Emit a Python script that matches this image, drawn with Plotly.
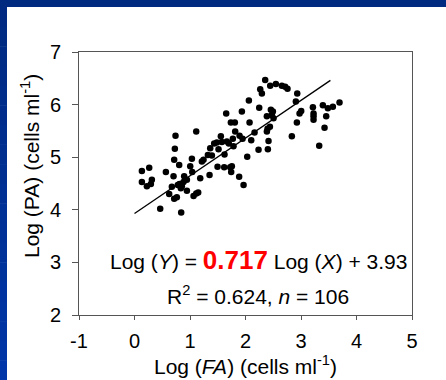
import plotly.graph_objects as go

# Data
fa_log = [0.133, 0.265, 0.133, 0.223, 0.295, 0.313, 0.463, 0.565, 0.625, 0.673,
          0.703, 0.715, 0.727, 0.739, 0.763, 0.715, 0.805, 0.811, 0.853, 0.883,
          0.835, 0.841, 0.895, 0.944, 1.004, 1.034, 1.040, 1.064, 1.112, 1.148,
          1.112, 1.184, 1.214, 1.244, 1.352, 1.364, 1.322, 1.394, 1.436, 1.496,
          1.514, 1.556, 1.574, 1.616, 1.622, 1.652, 1.664, 1.724, 1.742, 1.754,
          1.736, 1.808, 1.772, 1.784, 1.814, 1.886, 1.893, 1.935, 1.947, 1.965,
          2.031, 2.061, 2.073, 2.103, 2.163, 2.235, 2.247, 2.265, 2.295, 2.355,
          2.385, 2.397, 2.385, 2.403, 2.415, 2.445, 2.457, 2.493, 2.475, 2.505,
          2.547, 2.655, 2.715, 2.757, 2.835, 2.907, 2.932, 2.926, 2.974, 3.004,
          3.214, 3.226, 3.226, 3.328, 3.394, 3.424, 3.454, 3.484, 3.574, 3.694,
          1.484, 0.944, 3.226, 0.780, 1.700, 2.440]
pa_log = [4.74, 4.80, 4.53, 4.45, 4.49, 4.57, 4.02, 4.72, 4.30, 4.44,
          4.64, 4.95, 5.16, 5.41, 4.24, 4.21, 4.85, 4.49, 4.45, 4.53,
          4.41, 3.95, 4.64, 4.36, 4.83, 4.97, 4.72, 4.26, 4.31, 4.33,
          5.49, 4.60, 4.92, 4.95, 4.66, 5.17, 5.04, 5.03, 5.26, 4.82,
          5.15, 5.40, 5.29, 4.81, 5.05, 5.83, 5.30, 4.81, 4.72, 4.83,
          5.66, 5.66, 5.35, 5.21, 5.49, 4.63, 5.41, 5.87, 5.35, 4.47,
          5.01, 6.08, 5.66, 5.32, 5.47, 5.14, 5.94, 6.29, 6.21, 6.47,
          5.78, 5.54, 5.49, 5.15, 5.31, 6.36, 5.90, 5.87, 5.80, 5.74,
          6.39, 6.36, 6.34, 6.30, 5.40, 6.06, 6.21, 5.66, 5.83, 5.88,
          5.95, 5.83, 5.71, 5.22, 5.99, 5.56, 5.78, 5.93, 5.96, 6.04,
          5.28, 4.57, 5.78, 4.47, 5.26, 5.58]

slope = 0.717
intercept = 3.93
fit_x = [0.0, 3.53]
fit_y = [intercept + slope * v for v in fit_x]

x_ticks = [-1, 0, 1, 2, 3, 4, 5]
x_tick_text = ["-1", "0", "1", "2", "3", "4", "5"]
y_ticks = [2, 3, 4, 5, 6, 7]
y_tick_text = ["2", "3", "4", "5", "6", "7"]

FONT = "Liberation Sans, Arial, sans-serif"
W, H = 446, 380
L, R, T, B = 79, 34, 52, 65
pw, ph = W - L - R, H - T - B
BLUE_TOP = (0x00, 0x2A, 0x80)
BLUE_BOTTOM = (0x00, 0x36, 0xA8)

fig = go.Figure()
fig.add_trace(go.Scatter(x=fa_log, y=pa_log, mode="markers",
                         marker=dict(color="black", size=6.5), showlegend=False,
                         hoverinfo="skip"))
fig.add_trace(go.Scatter(x=fit_x, y=fit_y, mode="lines",
                         line=dict(color="black", width=1.3), showlegend=False,
                         hoverinfo="skip"))

# pixel -> paper helpers
def px_x(p):
    return (p - L) / pw

def px_y(p):
    return (H - B - p) / ph

def rgb(c):
    return "rgb(%d,%d,%d)" % c

# blue frame: top band and left band (vertical gradient)
fig.add_shape(type="rect", xref="paper", yref="paper",
              x0=px_x(0), x1=px_x(W), y0=px_y(7), y1=px_y(0),
              fillcolor=rgb(BLUE_TOP), line=dict(width=0), layer="below")
steps = 19
for i in range(steps):
    y0p = 7 + (H - 7) * i / steps
    y1p = 7 + (H - 7) * (i + 1) / steps + 0.5
    t = (i + 0.5) / steps
    col = tuple(int(round(a + (b - a) * t)) for a, b in zip(BLUE_TOP, BLUE_BOTTOM))
    fig.add_shape(type="rect", xref="paper", yref="paper",
                  x0=px_x(0), x1=px_x(7), y0=px_y(min(y1p, H)), y1=px_y(y0p),
                  fillcolor=rgb(col), line=dict(width=0), layer="below")

fig.add_annotation(x=2.23, y=3.05, xref="x", yref="y", showarrow=False,
                   text=("Log (<i>Y</i>) = <span style='color:#FF0000;font-size:26px'><b>0.717</b></span>"
                         " Log (<i>X</i>) + 3.93"),
                   font=dict(family=FONT, size=21, color="black"), xanchor="center", yanchor="middle")
fig.add_annotation(x=2.23, y=2.38, xref="x", yref="y", showarrow=False,
                   text="R<sup>2</sup> = 0.624, <i>n</i> = 106",
                   font=dict(family=FONT, size=21, color="black"), xanchor="center", yanchor="middle")

# y-axis title as rotated annotation
fig.add_annotation(x=px_x(30), y=px_y(166), xref="paper", yref="paper", showarrow=False,
                   text="Log (PA) (cells ml<sup>-1</sup>)", textangle=-90,
                   font=dict(family=FONT, size=21, color="black"), xanchor="center", yanchor="middle")

axis_common = dict(showgrid=False, zeroline=False, showline=True, linecolor="#555555",
                   linewidth=1, mirror=True, ticks="outside", tickcolor="#555555",
                   tickfont=dict(family=FONT, size=20, color="black"))
fig.update_xaxes(range=[-1, 5], tickvals=x_ticks, ticktext=x_tick_text, ticklen=4,
                 ticklabelstandoff=4, **axis_common,
                 title=dict(text="Log (<i>FA</i>) (cells ml<sup>-1</sup>)",
                            font=dict(family=FONT, size=21, color="black"), standoff=4))
fig.update_yaxes(range=[2, 7], tickvals=y_ticks, ticktext=y_tick_text, ticklen=6,
                 ticklabelstandoff=7, **axis_common)

fig.update_layout(width=W, height=H, margin=dict(l=L, r=R, t=T, b=B, autoexpand=False),
                  paper_bgcolor="white", plot_bgcolor="white",
                  font=dict(family=FONT, size=18, color="black"))

fig.write_html("out.html", config={"displayModeBar": False},
               post_script="document.body.style.margin='0';document.body.style.overflow='hidden';")
